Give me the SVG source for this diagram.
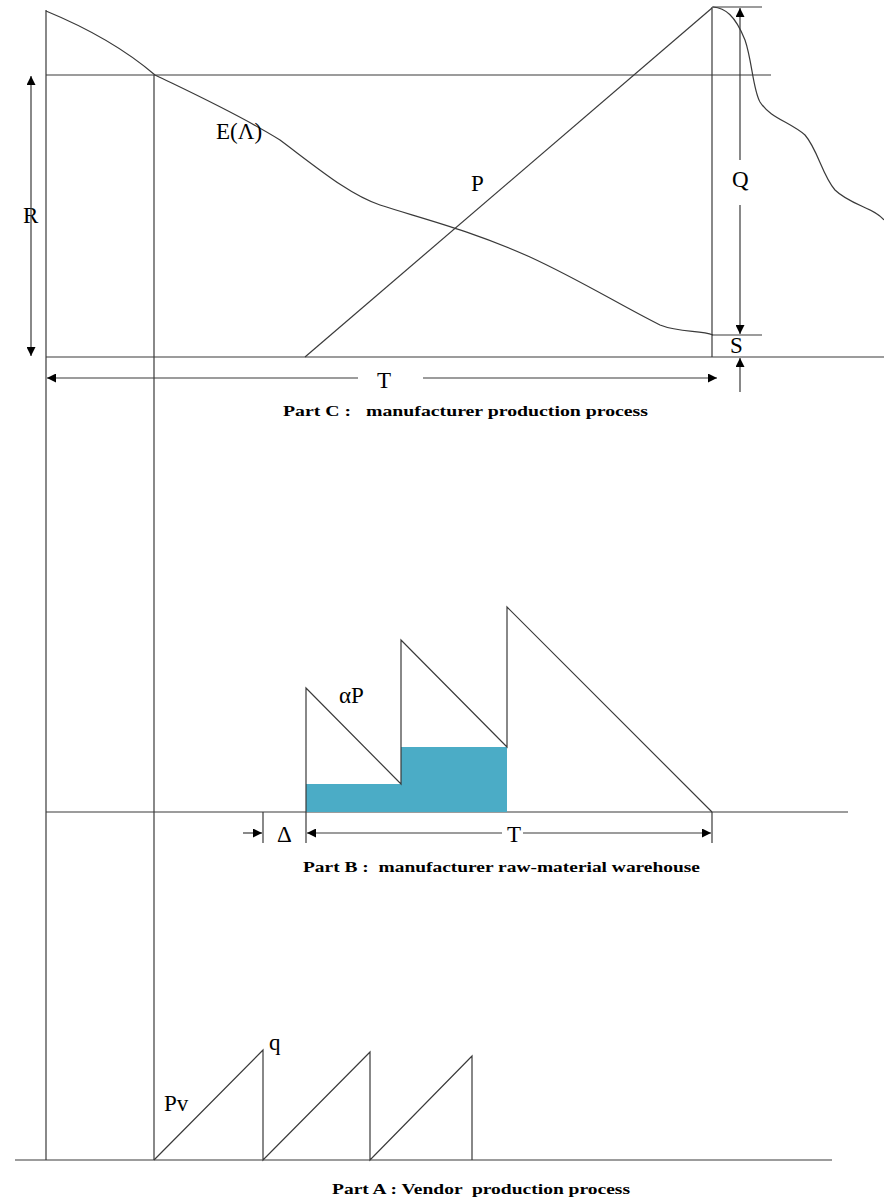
<svg xmlns="http://www.w3.org/2000/svg" width="884" height="1203" viewBox="0 0 884 1203">
<style>
.ln{stroke:#3a3a3a;stroke-width:1.2;fill:none}
.lb{font-family:"Liberation Serif",serif;font-size:23px;fill:#000}
.cap{font-family:"Liberation Serif",serif;font-weight:bold;font-size:14.5px;fill:#000}
</style>
<defs>
<marker id="ah" viewBox="0 0 10 10" refX="10" refY="5" markerWidth="9" markerHeight="9" markerUnits="userSpaceOnUse" orient="auto"><path d="M0,0 L10,5 L0,10 z" fill="#000"/></marker>
</defs>
<rect width="884" height="1203" fill="#fff"/>
<g id="axes">
<line class="ln" x1="46" y1="10" x2="46" y2="1160"/>
<line class="ln" x1="154" y1="75" x2="154" y2="1160"/>
<line class="ln" x1="46" y1="75" x2="771" y2="75"/>
<line class="ln" x1="46" y1="357" x2="884" y2="357"/>
<line class="ln" x1="712" y1="7" x2="712" y2="357"/>
<line class="ln" x1="712" y1="7" x2="762" y2="7"/>
<line class="ln" x1="712" y1="335" x2="762" y2="335"/>
<line class="ln" x1="46" y1="812" x2="848" y2="812"/>
<line class="ln" x1="15" y1="1160" x2="832" y2="1160"/>
</g>
<g id="partC">
<path class="ln" d="M46,11 C80,25 120,45 155,75 C190,92 240,115 280,140 C320,170 350,195 380,205 C420,218 470,230 530,257 C580,280 620,305 660,325 C680,333 700,330 713,335"/>
<path class="ln" d="M713,7 C725,8 735,15 745,40 C752,60 753,90 760,102 C770,118 790,122 805,135 C818,150 822,175 835,190 C850,205 875,208 884,220"/>
<line class="ln" x1="305" y1="357" x2="712" y2="8"/>
<text class="lb" x="216" y="139">E(Λ)</text>
<text class="lb" x="471" y="191">P</text>
<text class="lb" x="23" y="223">R</text>
<text class="lb" x="732" y="187">Q</text>
<text class="lb" x="730" y="353">S</text>
<text class="lb" x="377" y="388">T</text>
<text class="cap" x="283" y="416" textLength="365" lengthAdjust="spacingAndGlyphs" xml:space="preserve">Part C :   manufacturer production process</text>
</g>
<g id="partB">
<rect x="306" y="784" width="95" height="28" fill="#4BACC6"/>
<rect x="401" y="747" width="106" height="65" fill="#4BACC6"/>
<path class="ln" d="M306,812 L306,688 L401,784 L401,640 L507,747 L507,607 L712,812"/>
<line class="ln" x1="263" y1="812" x2="263" y2="843"/>
<line class="ln" x1="306" y1="812" x2="306" y2="843"/>
<line class="ln" x1="712" y1="812" x2="712" y2="843"/>
<text class="lb" x="339" y="703">αP</text>
<text class="lb" x="277" y="842">Δ</text>
<text class="lb" x="507" y="842">T</text>
<text class="cap" x="303" y="872" textLength="397" lengthAdjust="spacingAndGlyphs" xml:space="preserve">Part B :  manufacturer raw-material warehouse</text>
</g>
<g id="partA">
<path class="ln" d="M154,1160 L263,1050 L263,1160 L370,1052 L370,1160 L472,1056 L472,1160"/>
<text class="lb" x="269" y="1050">q</text>
<text class="lb" x="164" y="1111">Pv</text>
<text class="cap" x="332" y="1194" textLength="298" lengthAdjust="spacingAndGlyphs" xml:space="preserve">Part A : Vendor  production process</text>
</g>
<g id="connectors">
<line class="ln" x1="31" y1="150" x2="31" y2="76" marker-end="url(#ah)"/>
<line class="ln" x1="31" y1="150" x2="31" y2="356" marker-end="url(#ah)"/>
<line class="ln" x1="358" y1="378" x2="47" y2="378" marker-end="url(#ah)"/>
<line class="ln" x1="423" y1="378" x2="717" y2="378" marker-end="url(#ah)"/>
<line class="ln" x1="740" y1="160" x2="740" y2="8" marker-end="url(#ah)"/>
<line class="ln" x1="740" y1="205" x2="740" y2="334" marker-end="url(#ah)"/>
<line class="ln" x1="740" y1="392" x2="740" y2="358" marker-end="url(#ah)"/>
<line class="ln" x1="243" y1="833" x2="262" y2="833" marker-end="url(#ah)"/>
<line class="ln" x1="502" y1="833" x2="307" y2="833" marker-end="url(#ah)"/>
<line class="ln" x1="523" y1="833" x2="711" y2="833" marker-end="url(#ah)"/>
</g>
</svg>
